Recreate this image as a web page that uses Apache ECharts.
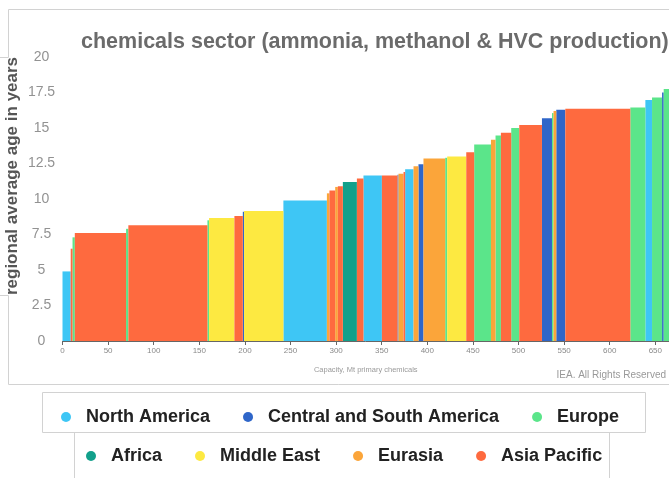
<!DOCTYPE html>
<html>
<head>
<meta charset="utf-8">
<script src="https://cdn.jsdelivr.net/npm/echarts@6/dist/echarts.min.js"></script>
<style>html,body{margin:0;padding:0;background:#fff;}#c{width:669px;height:478px;}</style>
</head>
<body>
<div id="c"></div>
<script>
// Region names (legend order)
const regionNames = ['North America','Central and South America','Europe','Africa','Middle East','Eurasia','Asia Pacific'];
const regionColors = ['#3ec6f5','#2f66c9','#5be58a','#12a08b','#fde941','#fba53a','#fe6a3f'];

// Capacity segments (Mt primary chemicals): start, end, regional average age (years), region
const segStart = [0, 9.0, 11.0, 13.5, 69.7, 72.2, 158.9, 160.7, 188.5, 197.7, 199.1, 242.2, 289.9, 292.7, 299.0, 301.9, 307.4, 322.8, 330.0, 350.2, 367.3, 368.4, 373.9, 375.7, 384.9, 390.3, 395.8, 419.6, 421.8, 442.7, 451.4, 469.8, 474.8, 480.7, 492.0, 500.8, 525.7, 536.7, 538.4, 541.4, 551.3, 622.6, 639.1, 646.4, 657.4, 659.2];
const segEnd   = [9.0, 11.0, 13.5, 69.7, 72.2, 158.9, 160.7, 188.5, 197.7, 199.1, 242.2, 289.9, 292.7, 299.0, 301.9, 307.4, 322.8, 330.0, 350.2, 367.3, 368.4, 373.9, 375.7, 384.9, 390.3, 395.8, 419.6, 421.8, 442.7, 451.4, 469.8, 474.8, 480.7, 492.0, 500.8, 525.7, 536.7, 538.4, 541.4, 551.3, 622.6, 639.1, 646.4, 657.4, 659.2, 668];
const segAge   = [4.9, 6.5, 7.3, 7.6, 7.9, 8.15, 8.5, 8.67, 8.8, 9.1, 9.15, 9.9, 10.4, 10.6, 10.85, 10.9, 11.2, 11.45, 11.65, 11.65, 11.7, 11.77, 11.9, 12.1, 12.3, 12.45, 12.86, 12.9, 13.0, 13.3, 13.83, 14.18, 14.47, 14.66, 15.0, 15.22, 15.68, 16.05, 16.2, 16.28, 16.36, 16.45, 16.98, 17.15, 17.5, 17.75];
const segRegion = ['North America','Asia Pacific','Europe','Asia Pacific','Europe','Asia Pacific','Europe','Middle East','Asia Pacific','Central and South America','Middle East','North America','Eurasia','Asia Pacific','Eurasia','Asia Pacific','Africa','Asia Pacific','North America','Asia Pacific','Central and South America','Eurasia','Asia Pacific','North America','Eurasia','Central and South America','Eurasia','Europe','Middle East','Asia Pacific','Europe','Eurasia','Europe','Asia Pacific','Europe','Asia Pacific','Central and South America','Europe','Eurasia','Central and South America','Asia Pacific','Europe','North America','Europe','Central and South America','Europe'];

const yTicks = [0, 2.5, 5, 7.5, 10, 12.5, 15, 17.5, 20];
const xTickStep = 50;

const chart = echarts.init(document.getElementById('c'), null, {renderer:'canvas'});

function renderItem(params, api) {
  const s = api.value(0), e = api.value(1), a = api.value(2);
  const p0 = api.coord([s, a]);
  const p1 = api.coord([e, 0]);
  const rect = echarts.graphic.clipRectByRect({
    x: p0[0], y: p0[1], width: p1[0] - p0[0], height: p1[1] - p0[1]
  }, {
    x: params.coordSys.x, y: params.coordSys.y, width: params.coordSys.width, height: params.coordSys.height
  });
  return rect && {type: 'rect', shape: rect, style: {fill: api.visual('color')}};
}

const series = regionNames.map((name, ri) => {
  const data = [];
  segStart.forEach((s, i) => {
    if (segRegion[i] === name) data.push([s, segEnd[i], segAge[i]]);
  });
  return {
    type: 'custom', name: name, renderItem: renderItem,
    itemStyle: {color: regionColors[ri]},
    encode: {x: [0, 1], y: 2},
    data: data
  };
});

const legendText = {fontSize: 18, fontWeight: 'bold', color: '#222', fontFamily: 'Liberation Sans, Arial, sans-serif', padding: [0, 0, 0, 10]};
const frame = '#d2d2d2';

chart.setOption({
  animation: false,
  backgroundColor: '#fff',
  color: regionColors,
  title: {
    text: 'chemicals sector (ammonia, methanol & HVC production)',
    left: 76, top: 26,
    textStyle: {fontSize: 21.5, fontWeight: 'bold', color: '#6b6b6b', fontFamily: 'Liberation Sans, Arial, sans-serif'}
  },
  grid: {left: 62.5, right: 0, top: 57, bottom: 137, containLabel: false},
  xAxis: {
    type: 'value', min: 0, max: 665, interval: xTickStep,
    name: 'Capacity, Mt primary chemicals', nameLocation: 'middle', nameGap: 25,
    nameTextStyle: {fontSize: 7.5, color: '#9a9a9a', fontFamily: 'Liberation Sans, Arial, sans-serif'},
    axisLine: {show: true, lineStyle: {color: '#666', width: 1}},
    axisTick: {show: true, length: 4, lineStyle: {color: '#666'}},
    axisLabel: {fontSize: 8, color: '#8a8a8a', margin: 6, showMaxLabel: false,
      formatter: v => (v % xTickStep === 0 ? String(v) : '')},
    splitLine: {show: false}
  },
  yAxis: {
    type: 'value', min: yTicks[0], max: yTicks[yTicks.length - 1], interval: 2.5,
    axisLine: {show: false}, axisTick: {show: false}, splitLine: {show: false},
    axisLabel: {fontSize: 14, color: '#929292', align: 'center', margin: 21,
      fontFamily: 'Liberation Sans, Arial, sans-serif'}
  },
  legend: [
    {data: regionNames.slice(0, 3), left: 56, top: 403, icon: 'circle', itemWidth: 10, itemHeight: 10,
     itemGap: 33, textStyle: legendText, selectedMode: false},
    {data: regionNames.slice(3), left: 81, top: 442, icon: 'circle', itemWidth: 10, itemHeight: 10,
     itemGap: 33, textStyle: legendText, selectedMode: false}
  ],
  graphic: [
    {type: 'polyline', shape: {points: [[0, 57.5], [8.5, 57.5], [8.5, 9.5], [669, 9.5]]}, style: {stroke: frame, fill: null, lineWidth: 1}},
    {type: 'polyline', shape: {points: [[0, 295.5], [8.5, 295.5], [8.5, 384.5], [669, 384.5]]}, style: {stroke: frame, fill: null, lineWidth: 1}},
    {type: 'polyline', shape: {points: [[42.5, 432.5], [42.5, 392.5], [645.5, 392.5], [645.5, 432.5], [42.5, 432.5]]}, style: {stroke: frame, fill: null, lineWidth: 1}},
    {type: 'polyline', shape: {points: [[74.5, 478], [74.5, 432.5]]}, style: {stroke: frame, fill: null, lineWidth: 1}},
    {type: 'polyline', shape: {points: [[609.5, 478], [609.5, 432.5]]}, style: {stroke: frame, fill: null, lineWidth: 1}},
    {type: 'text', x: 12, y: 176, rotation: Math.PI / 2,
     style: {text: 'regional average age in years', align: 'center', verticalAlign: 'middle',
       font: 'bold 17px "Liberation Sans", Arial, sans-serif', fill: '#555'}},
    {type: 'text', x: 666, y: 375,
     style: {text: 'IEA. All Rights Reserved', align: 'right', verticalAlign: 'middle',
       font: '10px "Liberation Sans", Arial, sans-serif', fill: '#999'}}
  ],
  series: series
});
</script>
</body>
</html>
